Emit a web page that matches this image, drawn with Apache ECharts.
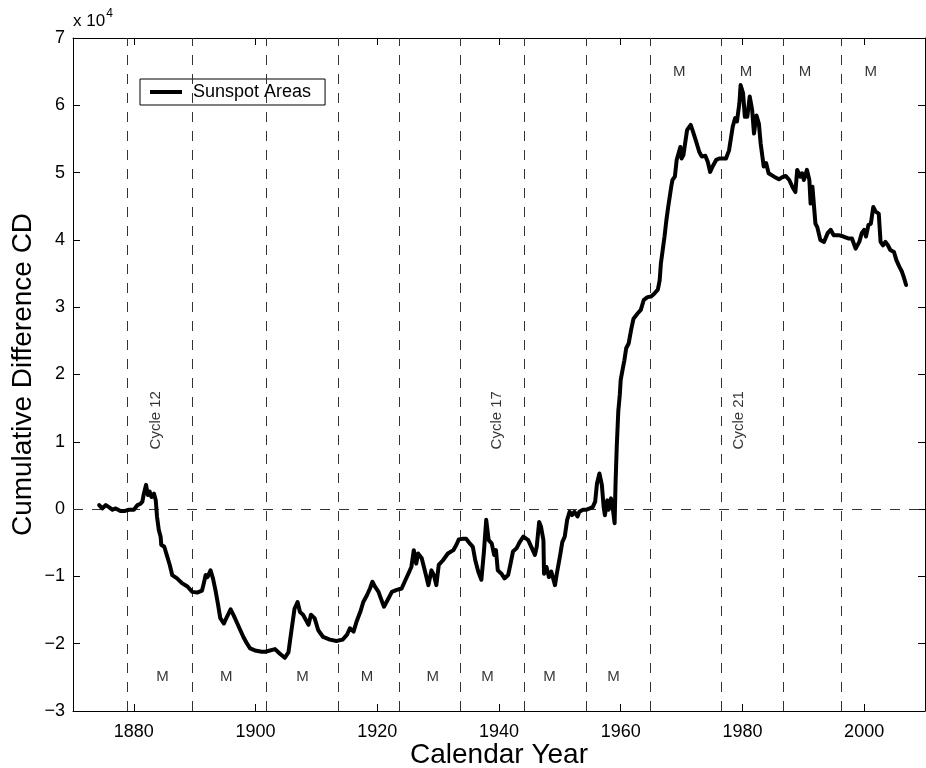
<!DOCTYPE html>
<html>
<head>
<meta charset="utf-8">
<title>Cumulative Difference CD – Sunspot Areas</title>
<script src="https://cdn.jsdelivr.net/npm/echarts@6/dist/echarts.min.js"></script>
<style>
  html, body { margin: 0; padding: 0; background: #fff; }
  #chart { width: 926px; height: 768px; }
</style>
</head>
<body>
<div id="chart"></div>
<script>
// Calendar year of each sample
const years = [
  1874.3, 1874.8, 1875.4, 1875.9, 1876.5, 1877.0, 1877.8, 1878.4, 1879.2, 1880.0,
  1880.6, 1881.1, 1881.4, 1881.6, 1882.0, 1882.3, 1882.6, 1882.9, 1883.3, 1883.6,
  1883.8, 1884.1, 1884.4, 1884.5, 1885.0, 1885.5, 1885.9, 1886.3, 1887.1, 1887.9,
  1888.8, 1889.6, 1890.4, 1891.2, 1891.5, 1891.8, 1892.1, 1892.6, 1893.0, 1893.4,
  1893.8, 1894.2, 1894.8, 1895.3, 1895.9, 1896.4, 1897.0, 1897.5, 1898.0, 1898.6,
  1899.1, 1899.9, 1901.0, 1901.6, 1903.2, 1904.0, 1904.8, 1905.4, 1905.9, 1906.4,
  1906.9, 1907.3, 1907.8, 1908.1, 1908.7, 1909.1, 1909.7, 1910.3, 1911.1, 1912.2,
  1913.3, 1914.3, 1915.0, 1915.5, 1916.1, 1916.6, 1917.2, 1917.7, 1918.3, 1918.8,
  1919.2, 1919.6, 1920.2, 1920.6, 1921.1, 1921.7, 1922.4, 1923.2, 1924.0, 1924.5,
  1925.1, 1925.6, 1926.0, 1926.4, 1926.7, 1927.3, 1927.8, 1928.4, 1928.9, 1929.3,
  1929.7, 1930.1, 1930.8, 1931.6, 1932.5, 1933.0, 1933.4, 1934.1, 1934.6, 1935.2,
  1935.7, 1936.1, 1936.6, 1937.1, 1937.5, 1937.9, 1938.3, 1938.8, 1939.2, 1939.5,
  1939.8, 1940.4, 1940.9, 1941.5, 1941.9, 1942.3, 1942.9, 1943.4, 1944.0, 1944.8,
  1945.4, 1945.9, 1946.2, 1946.6, 1946.9, 1947.3, 1947.4, 1947.8, 1948.2, 1948.6,
  1949.2, 1949.5, 1950.0, 1950.4, 1950.8, 1951.2, 1951.6, 1952.0, 1952.4, 1952.9,
  1953.2, 1953.8, 1954.3, 1954.9, 1955.4, 1955.8, 1956.1, 1956.5, 1956.9, 1957.2,
  1957.4, 1957.8, 1958.0, 1958.4, 1958.7, 1959.0, 1959.15, 1959.35, 1959.6, 1959.85,
  1960.0, 1960.3, 1960.6, 1960.9, 1961.3, 1961.7, 1962.1, 1962.8, 1963.3, 1963.8,
  1964.4, 1965.0, 1965.5, 1966.1, 1966.4, 1966.6, 1966.9, 1967.2, 1967.5, 1967.8,
  1968.3, 1968.5, 1968.9, 1969.2, 1969.4, 1969.8, 1970.0, 1970.3, 1970.6, 1970.9,
  1971.5, 1971.8, 1972.4, 1972.9, 1973.3, 1973.9, 1974.3, 1974.7, 1975.1, 1975.7,
  1976.2, 1977.3, 1977.8, 1978.4, 1978.8, 1979.1, 1979.5, 1979.7, 1980.1, 1980.4,
  1980.8, 1981.2, 1981.6, 1981.9, 1982.3, 1982.7, 1983.0, 1983.5, 1983.9, 1984.3,
  1985.2, 1986.0, 1986.5, 1987.1, 1987.7, 1988.2, 1988.7, 1989.0, 1989.5, 1989.8,
  1990.1, 1990.6, 1991.0, 1991.2, 1991.5, 1992.0, 1992.3, 1992.8, 1993.4, 1994.0,
  1994.5, 1995.0, 1995.8, 1996.6, 1997.5, 1998.0, 1998.6, 1999.2, 1999.6, 2000.0,
  2000.3, 2000.7, 2001.1, 2001.5, 2001.9, 2002.4, 2002.7, 2003.1, 2003.5, 2003.9,
  2004.3, 2004.9, 2005.3, 2005.8, 2006.2, 2006.5, 2006.9
];

// Cumulative difference of sunspot areas, in units of 10^4
const cdE4 = [
  0.06, 0.01, 0.06, 0.03, -0.01, 0.01, -0.03, -0.03, -0.01, -0.01,
  0.06, 0.08, 0.11, 0.21, 0.36, 0.21, 0.26, 0.18, 0.23, 0.13,
  -0.11, -0.31, -0.41, -0.53, -0.56, -0.71, -0.83, -0.98, -1.03, -1.10,
  -1.15, -1.23, -1.24, -1.21, -1.10, -0.98, -1.01, -0.91, -1.03, -1.20,
  -1.40, -1.62, -1.70, -1.60, -1.49, -1.58, -1.70, -1.80, -1.90, -2.00,
  -2.07, -2.10, -2.12, -2.12, -2.08, -2.15, -2.21, -2.13, -1.80, -1.48,
  -1.38, -1.53, -1.57, -1.55, -1.72, -1.57, -1.62, -1.80, -1.90, -1.94,
  -1.96, -1.94, -1.87, -1.77, -1.82, -1.67, -1.53, -1.38, -1.28, -1.18,
  -1.08, -1.15, -1.23, -1.33, -1.45, -1.35, -1.23, -1.20, -1.18, -1.08,
  -0.96, -0.86, -0.61, -0.81, -0.66, -0.73, -0.91, -1.13, -0.91, -0.98,
  -1.13, -0.83, -0.76, -0.66, -0.61, -0.53, -0.45, -0.44, -0.44, -0.51,
  -0.56, -0.76, -0.93, -1.05, -0.66, -0.16, -0.46, -0.51, -0.68, -0.61,
  -0.91, -0.96, -1.03, -0.98, -0.81, -0.63, -0.58, -0.49, -0.41, -0.46,
  -0.58, -0.68, -0.56, -0.19, -0.26, -0.46, -0.96, -0.86, -1.01, -0.93,
  -1.13, -0.96, -0.71, -0.49, -0.41, -0.16, -0.04, -0.09, -0.04, -0.11,
  -0.04, -0.01, -0.01, 0.01, 0.03, 0.11, 0.38, 0.53, 0.36, 0.03,
  -0.09, 0.13, -0.01, 0.16, 0.01, -0.21, 0.38, 0.93, 1.45, 1.70,
  1.92, 2.07, 2.21, 2.39, 2.46, 2.66, 2.83, 2.91, 2.96, 3.11,
  3.15, 3.16, 3.20, 3.26, 3.40, 3.65, 3.85, 4.05, 4.29, 4.49,
  4.79, 4.89, 4.94, 5.19, 5.19, 5.38, 5.21, 5.26, 5.24, 5.63,
  5.71, 5.63, 5.46, 5.31, 5.24, 5.25, 5.16, 5.01, 5.09, 5.19,
  5.21, 5.21, 5.33, 5.68, 5.81, 5.76, 6.03, 6.30, 6.18, 5.83,
  5.83, 6.13, 5.93, 5.58, 5.85, 5.73, 5.43, 5.09, 5.14, 4.99,
  4.94, 4.90, 4.93, 4.95, 4.89, 4.79, 4.71, 5.04, 4.94, 4.99,
  4.89, 5.04, 4.89, 4.54, 4.79, 4.24, 4.19, 4.00, 3.97, 4.10,
  4.15, 4.07, 4.07, 4.05, 4.02, 4.02, 3.87, 3.97, 4.10, 4.15,
  4.05, 4.22, 4.24, 4.49, 4.42, 4.39, 3.97, 3.92, 3.97, 3.92,
  3.85, 3.82, 3.70, 3.60, 3.53, 3.45, 3.33
];

// Years of solar cycle minima (dashed vertical markers)
const cycleMinima = [1878.9, 1889.6, 1901.7, 1913.6, 1923.6, 1933.7,
                     1944.1, 1954.3, 1964.9, 1976.5, 1986.7, 1996.3];

// Cycle maxima marked with "M": lower row and upper row
const maxLowYears = [1884.7, 1895.2, 1907.7, 1918.3, 1929.1, 1938.1, 1948.3, 1958.8];
const maxHighYears = [1969.6, 1980.6, 1990.3, 2001.1];
const maxLowLevel = -2.5;
const maxHighLevel = 6.49;

// Cycle name annotations
const cycleNames = ['Cycle 12', 'Cycle 17', 'Cycle 21'];
const cycleNameYears = [1883.6, 1939.6, 1979.4];
const cycleNameLevel = 1.32;

// Axis ticks
const xTicks = [1880, 1900, 1920, 1940, 1960, 1980, 2000];
const yMin = -3, yMax = 7;

const FONT = '"Liberation Sans", Arial, Helvetica, sans-serif';

const lineData = years.map((y, i) => [y, cdE4[i]]);
const mData = maxLowYears.map(y => [y, maxLowLevel, 'M'])
  .concat(maxHighYears.map(y => [y, maxHighLevel, 'M']));
const cycleData = cycleNameYears.map((y, i) => [y, cycleNameLevel, cycleNames[i]]);

const fmtY = v => String(v).replace('-', '\u2212');
const fmtX = v => String(v);

const tickStyle = { show: true, inside: true, length: 7, lineStyle: { color: '#000', width: 1 } };
const axisLine = { show: true, onZero: false, lineStyle: { color: '#000', width: 1 } };

const chart = echarts.init(document.getElementById('chart'), null, { renderer: 'canvas' });

chart.setOption({
  animation: false,
  backgroundColor: '#fff',
  grid: { left: 73, right: 1, top: 38, bottom: 57, containLabel: false, outerBoundsMode: 'none' },
  xAxis: [
    {
      type: 'value', min: 1870, max: 2010, position: 'bottom',
      axisLine: axisLine,
      axisTick: Object.assign({ customValues: xTicks }, tickStyle),
      axisLabel: { customValues: xTicks, formatter: fmtX, color: '#000', fontSize: 18, fontFamily: FONT, margin: 12 },
      splitLine: { show: false },
      name: 'Calendar Year', nameLocation: 'middle', nameGap: 30, nameMoveOverlap: false,
      nameTextStyle: { color: '#000', fontSize: 28, fontFamily: FONT }
    },
    {
      type: 'value', min: 1870, max: 2010, position: 'top',
      axisLine: axisLine,
      axisTick: Object.assign({ customValues: xTicks }, tickStyle),
      axisLabel: { show: false },
      splitLine: { show: false }
    }
  ],
  yAxis: [
    {
      type: 'value', min: yMin, max: yMax, interval: 1, position: 'left',
      axisLine: axisLine,
      axisTick: tickStyle,
      axisLabel: { color: '#000', fontSize: 18, fontFamily: FONT, margin: 8, formatter: fmtY },
      splitLine: { show: false },
      name: 'Cumulative Difference CD', nameLocation: 'middle', nameGap: 36, nameMoveOverlap: false,
      nameTextStyle: { color: '#000', fontSize: 28, fontFamily: FONT }
    },
    {
      type: 'value', min: yMin, max: yMax, interval: 1, position: 'right',
      axisLine: axisLine,
      axisTick: tickStyle,
      axisLabel: { show: false },
      splitLine: { show: false }
    }
  ],
  legend: {
    data: ['Sunspot Areas'],
    left: 140, top: 79,
    orient: 'vertical',
    backgroundColor: '#fff',
    borderColor: '#000', borderWidth: 1, borderRadius: 0,
    padding: [4, 14, 4, 10],
    icon: 'rect', itemWidth: 32, itemHeight: 4,
    textStyle: { color: '#000', fontSize: 18, fontFamily: FONT, padding: [0, 0, 0, 6] },
    selectedMode: false
  },
  graphic: [
    {
      type: 'text', left: 73, top: 8,
      style: {
        text: '{b|x 10}{s|4}',
        rich: {
          b: { fontSize: 17, fontFamily: FONT, fill: '#000', verticalAlign: 'bottom', lineHeight: 22 },
          s: { fontSize: 12, fontFamily: FONT, fill: '#000', verticalAlign: 'top', lineHeight: 22, padding: [0, 0, 8, 1] }
        }
      }
    }
  ],
  series: [
    {
      name: 'Sunspot Areas',
      type: 'line',
      data: lineData,
      showSymbol: false,
      symbol: 'none',
      lineStyle: { color: '#000', width: 4, join: 'round', cap: 'round' },
      itemStyle: { color: '#000' },
      z: 5,
      markLine: {
        silent: true,
        symbol: ['none', 'none'],
        label: { show: false },
        lineStyle: { color: '#333', width: 1, type: [10, 9] },
        data: cycleMinima.map(y => ({ xAxis: y })).concat([{ yAxis: 0 }])
      }
    },
    {
      name: 'maxima',
      type: 'scatter',
      data: mData,
      symbolSize: 0,
      silent: true,
      label: {
        show: true, position: 'inside', formatter: p => p.data[2],
        color: '#000', fontSize: 15, fontFamily: FONT
      }
    },
    {
      name: 'cycles',
      type: 'scatter',
      data: cycleData,
      symbolSize: 0,
      silent: true,
      label: {
        show: true, position: 'inside', rotate: 90, formatter: p => p.data[2],
        color: '#000', fontSize: 15, fontFamily: FONT
      }
    }
  ]
});
</script>
</body>
</html>
